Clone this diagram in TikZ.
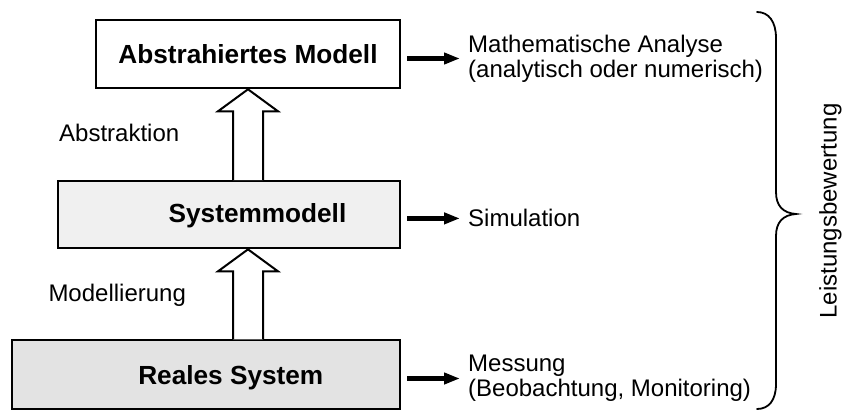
\documentclass[tikz,border=0pt]{standalone}
\usepackage{fontspec}
\setmainfont{Liberation Sans}
\usetikzlibrary{arrows.meta,calc}
\begin{document}
\begin{tikzpicture}[x=1pt,y=-1pt,
  box/.style={draw,line width=2pt,inner sep=0pt},
  boxlbl/.style={inner sep=0pt,font=\fontsize{26.2}{30}\selectfont\bfseries},
  txt/.style={inner sep=0pt,font=\fontsize{24}{25}\selectfont},
  hollow/.style={draw,fill=white,line width=2pt,line join=miter},
  fat/.style={line width=4.5pt,-{Triangle[length=16pt,width=11pt]}},
  bracestyle/.style={line width=1.8pt,line cap=round}]
\useasboundingbox (0,0) rectangle (843,412);

% boxes
\node[box,fill=white,minimum width=304pt,minimum height=68pt,boxlbl] (top) at (248,54.3) {Abstrahiertes Modell};
\node[box,fill=black!6,minimum width=342.3pt,minimum height=67.3pt] (mid) at (228.8,214.7) {};
\node[box,fill=black!11,minimum width=388pt,minimum height=68.7pt] (bot) at (206,374.7) {};
\node[boxlbl,anchor=base] (midtxt) at (257.5,222.7) {Systemmodell};
\node[boxlbl,anchor=base] (bottxt) at (230.8,384.5) {Reales System};

% hollow arrows
\draw[hollow] let \p1=(top.south), \p2=(top.south |- mid.north) in
  (\x1-15pt,\y2) -- (\x1-15pt,\y1-22pt) -- (\x1-30pt,\y1-22pt) -- (\x1,\y1)
  -- (\x1+30pt,\y1-22pt) -- (\x1+15pt,\y1-22pt) -- (\x1+15pt,\y2);
\draw[hollow] let \p1=(top.south |- mid.south), \p2=(top.south |- bot.north) in
  (\x1-15pt,\y2) -- (\x1-15pt,\y1-22pt) -- (\x1-30pt,\y1-22pt) -- (\x1,\y1)
  -- (\x1+30pt,\y1-22pt) -- (\x1+15pt,\y1-22pt) -- (\x1+15pt,\y2);

% side labels
\node[txt,anchor=base west] (abs) at (59,141.7) {Abstraktion};
\node[txt,anchor=base west] (mod) at (48.3,301) {Modellierung};

% right texts
\node[txt,anchor=west,align=left] (ana) at (468,58.5) {Mathematische Analyse\\(analytisch oder numerisch)};
\node[txt,anchor=west] (sim) at (468,218.4) {Simulation};
\node[txt,anchor=west,align=left] (mes) at (468,378.5) {Messung\\(Beobachtung, Monitoring)};

% fat arrows
\draw[fat] ([xshift=6pt]top.east |- ana.west) -- ([xshift=-8pt]ana.west);
\draw[fat] ([xshift=6pt]top.east |- sim.west) -- ([xshift=-8pt]sim.west);
\draw[fat] ([xshift=6pt]top.east |- mes.west) -- ([xshift=-8pt]mes.west);

% brace
\draw[bracestyle] (757,12) .. controls (769,12) and (776,22) .. (776,38)
  -- (776,192) .. controls (776,206) and (783,213) .. (796,214)
  .. controls (783,215) and (776,222) .. (776,236)
  -- (776,384) .. controls (776,400) and (769,409) .. (757,409);

\node[txt,rotate=90,anchor=base] (lb) at (836.5,211) {Leistungsbewertung};
\end{tikzpicture}
\end{document}
